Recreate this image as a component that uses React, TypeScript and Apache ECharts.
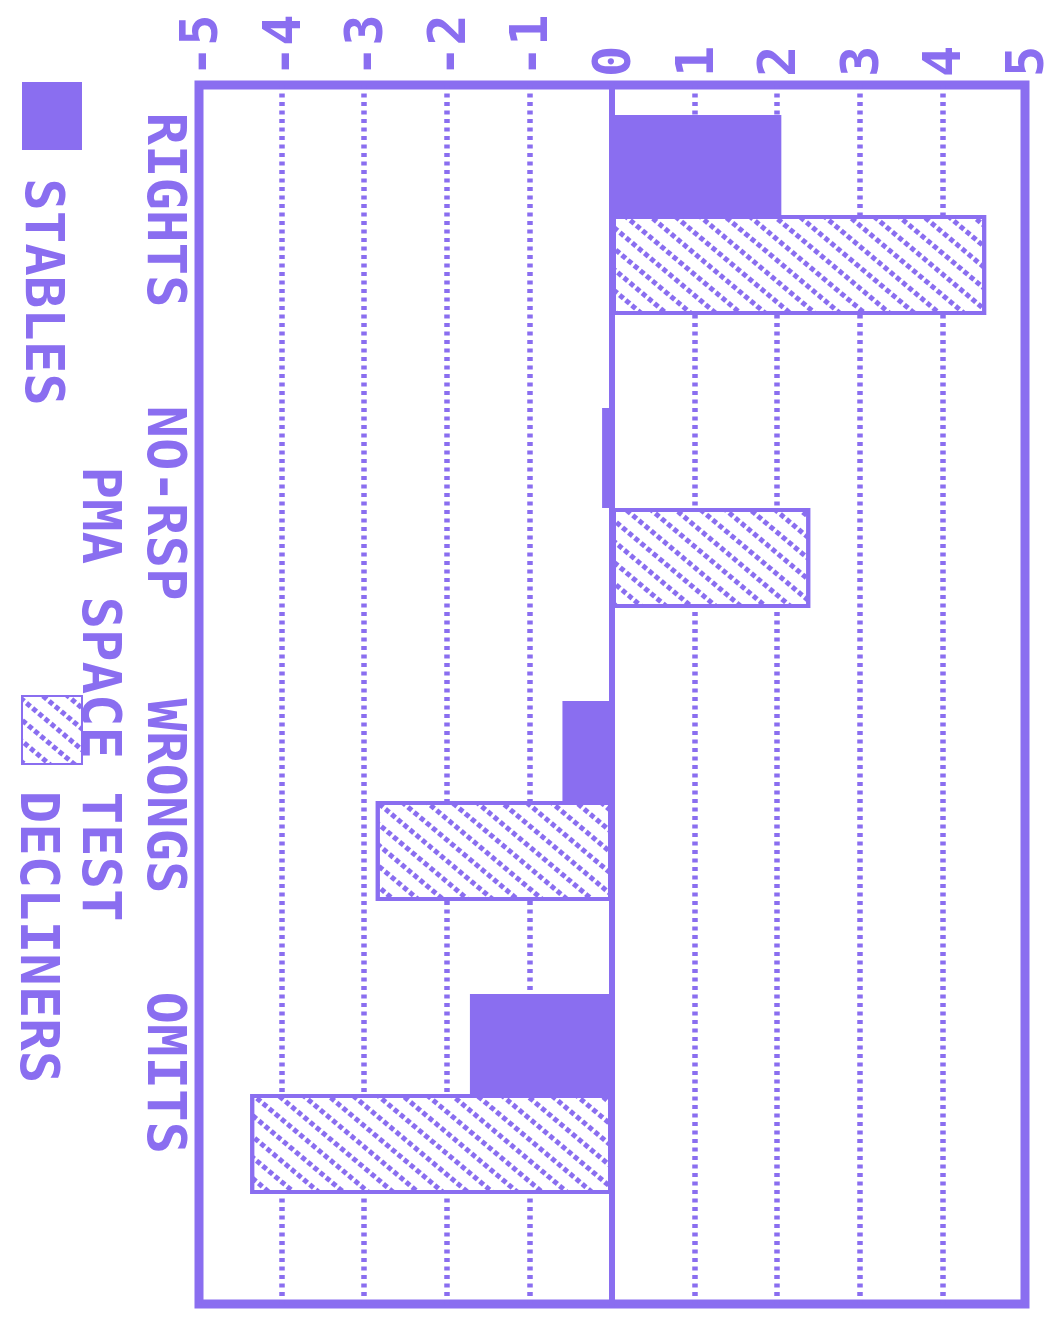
import React, { useEffect, useRef } from "react";
import * as echarts from "echarts";

const categories = ["RIGHTS", "NO-RSP", "WRONGS", "OMITS"];
const stables = [2.05, -0.12, -0.6, -1.72];
const decliners = [4.53, 2.4, -2.86, -4.38];
const seriesNames = ["STABLES", "DECLINERS"];
const titleText = "PMA SPACE TEST";
const axisMin = -5;
const axisMax = 5;
const axisInterval = 1;

const PURPLE = "#8a6ef0";
const FONT = "'DejaVu Sans Mono', monospace";

export default function App() {
  const ref = useRef<HTMLDivElement>(null);
  useEffect(() => {
    if (!ref.current) return;
    const chart = echarts.init(ref.current, null, { renderer: "svg" });
    const labelFont = { color: PURPLE, fontFamily: FONT, fontWeight: "bold" as const, fontSize: 54 };
    const hatch = {
      symbol: "rect",
      symbolSize: 1,
      color: PURPLE,
      backgroundColor: "#ffffff",
      dashArrayX: [5, 3],
      dashArrayY: [5, 11],
      rotation: 0.7,
    };
    chart.setOption({
      animation: false,
      backgroundColor: "#ffffff",
      grid: [
        { left: 199, right: 35, top: 85, bottom: 15, show: true, borderColor: PURPLE, borderWidth: 9, backgroundColor: "transparent" },
        { left: 199, right: 35, top: 68.5, bottom: 78.5 },
      ],
      xAxis: [
        {
          gridIndex: 0,
          type: "value",
          position: "top",
          min: axisMin,
          max: axisMax,
          interval: axisInterval,
          axisLine: { show: false, onZero: false },
          axisTick: { show: false },
          axisLabel: { rotate: -90, margin: 8, ...labelFont, fontSize: 52 },
          splitLine: { show: true, lineStyle: { color: PURPLE, width: 5.5, type: [4, 4.5] } },
        },
        { gridIndex: 1, type: "value", min: axisMin, max: axisMax, interval: axisInterval, show: false },
      ],
      yAxis: [
        {
          gridIndex: 0,
          type: "category",
          data: categories,
          z: 3,
          axisLine: { show: true, onZero: true, lineStyle: { color: PURPLE, width: 6 } },
          axisTick: { show: false },
          axisLabel: { show: false },
          splitLine: { show: false },
        },
        {
          gridIndex: 1,
          type: "category",
          data: categories,
          inverse: true,
          axisLine: { show: false, onZero: false },
          axisTick: { show: false },
          splitLine: { show: false },
          axisLabel: {
            interval: 0,
            rotate: -90,
            margin: 6,
            ...labelFont,
            formatter: (v: string) => `{a|${v}}`,
            rich: { a: { width: 205, align: "left", ...labelFont } },
          },
        },
      ],
      legend: {
        orient: "vertical",
        left: 16,
        top: 77,
        itemWidth: 60,
        itemHeight: 68,
        itemGap: 545,
        icon: "rect",
        selectedMode: false,
        data: seriesNames,
        formatter: () => "",
      },
      series: [
        {
          type: "bar",
          name: seriesNames[0],
          xAxisIndex: 1,
          yAxisIndex: 1,
          data: stables,
          barGap: "0%",
          barCategoryGap: "31.7%",
          itemStyle: { color: PURPLE },
        },
        {
          type: "bar",
          name: seriesNames[1],
          xAxisIndex: 1,
          yAxisIndex: 1,
          data: decliners,
          barGap: "0%",
          barCategoryGap: "31.7%",
          itemStyle: { color: "#ffffff", borderColor: PURPLE, borderWidth: 4, decal: hatch },
        },
      ],
      graphic: [
        {
          type: "text",
          x: 101,
          y: 694,
          rotation: -Math.PI / 2,
          style: { text: titleText, fill: PURPLE, fontFamily: FONT, fontWeight: "bold", fontSize: 54, align: "center", verticalAlign: "middle" },
        },
        {
          type: "text",
          x: 44,
          y: 292,
          rotation: -Math.PI / 2,
          style: { text: seriesNames[0], fill: PURPLE, fontFamily: FONT, fontWeight: "bold", fontSize: 54, align: "center", verticalAlign: "middle" },
        },
        {
          type: "text",
          x: 39,
          y: 937,
          rotation: -Math.PI / 2,
          style: { text: seriesNames[1], fill: PURPLE, fontFamily: FONT, fontWeight: "bold", fontSize: 54, align: "center", verticalAlign: "middle" },
        },
      ],
    });
    return () => chart.dispose();
  }, []);
  return <div ref={ref} style={{ position: "absolute", left: 0, top: 0, width: 1060, height: 1319 }} />;
}
